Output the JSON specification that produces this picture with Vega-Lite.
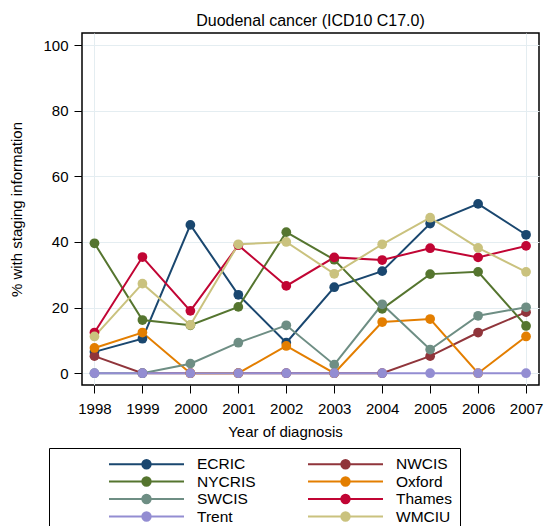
{
  "$schema": "https://vega.github.io/schema/vega-lite/v6.json",
  "width": 457,
  "height": 352,
  "autosize": {"type": "none"},
  "padding": {"left": 82, "top": 33, "right": 5, "bottom": 141},
  "background": "white",
  "config": {
    "font": "Liberation Sans",
    "view": {"stroke": "black", "strokeWidth": 1.5},
    "axis": {"labelColor": "black", "titleColor": "black", "tickColor": "black", "domain": false, "labelFontSize": 15, "titleFontSize": 15, "titleFontWeight": "normal"}
  },
  "title": {"text": "Duodenal cancer (ICD10 C17.0)", "fontSize": 16, "fontWeight": "normal", "color": "black", "offset": 4},
  "data": {
    "values": [
      {"registry": "ECRIC", "year": 1998, "pct": 6.5},
      {"registry": "ECRIC", "year": 1999, "pct": 10.5},
      {"registry": "ECRIC", "year": 2000, "pct": 45.2},
      {"registry": "ECRIC", "year": 2001, "pct": 23.9},
      {"registry": "ECRIC", "year": 2002, "pct": 9.3},
      {"registry": "ECRIC", "year": 2003, "pct": 26.2},
      {"registry": "ECRIC", "year": 2004, "pct": 31.1},
      {"registry": "ECRIC", "year": 2005, "pct": 45.6},
      {"registry": "ECRIC", "year": 2006, "pct": 51.6},
      {"registry": "ECRIC", "year": 2007, "pct": 42.2},
      {"registry": "NWCIS", "year": 1998, "pct": 5.2},
      {"registry": "NWCIS", "year": 1999, "pct": 0},
      {"registry": "NWCIS", "year": 2000, "pct": 0},
      {"registry": "NWCIS", "year": 2001, "pct": 0},
      {"registry": "NWCIS", "year": 2002, "pct": 0},
      {"registry": "NWCIS", "year": 2003, "pct": 0},
      {"registry": "NWCIS", "year": 2004, "pct": 0},
      {"registry": "NWCIS", "year": 2005, "pct": 5.2},
      {"registry": "NWCIS", "year": 2006, "pct": 12.4},
      {"registry": "NWCIS", "year": 2007, "pct": 18.6},
      {"registry": "NYCRIS", "year": 1998, "pct": 39.6},
      {"registry": "NYCRIS", "year": 1999, "pct": 16.2},
      {"registry": "NYCRIS", "year": 2000, "pct": 14.6},
      {"registry": "NYCRIS", "year": 2001, "pct": 20.2},
      {"registry": "NYCRIS", "year": 2002, "pct": 43.0},
      {"registry": "NYCRIS", "year": 2003, "pct": 34.6},
      {"registry": "NYCRIS", "year": 2004, "pct": 19.6},
      {"registry": "NYCRIS", "year": 2005, "pct": 30.2},
      {"registry": "NYCRIS", "year": 2006, "pct": 30.9},
      {"registry": "NYCRIS", "year": 2007, "pct": 14.4},
      {"registry": "Oxford", "year": 1998, "pct": 7.7},
      {"registry": "Oxford", "year": 1999, "pct": 12.4},
      {"registry": "Oxford", "year": 2000, "pct": 0},
      {"registry": "Oxford", "year": 2001, "pct": 0},
      {"registry": "Oxford", "year": 2002, "pct": 8.3},
      {"registry": "Oxford", "year": 2003, "pct": 0},
      {"registry": "Oxford", "year": 2004, "pct": 15.6},
      {"registry": "Oxford", "year": 2005, "pct": 16.5},
      {"registry": "Oxford", "year": 2006, "pct": 0},
      {"registry": "Oxford", "year": 2007, "pct": 11.2},
      {"registry": "SWCIS", "year": 1998, "pct": 0},
      {"registry": "SWCIS", "year": 1999, "pct": 0},
      {"registry": "SWCIS", "year": 2000, "pct": 2.9},
      {"registry": "SWCIS", "year": 2001, "pct": 9.3},
      {"registry": "SWCIS", "year": 2002, "pct": 14.6},
      {"registry": "SWCIS", "year": 2003, "pct": 2.6},
      {"registry": "SWCIS", "year": 2004, "pct": 21.0},
      {"registry": "SWCIS", "year": 2005, "pct": 7.2},
      {"registry": "SWCIS", "year": 2006, "pct": 17.5},
      {"registry": "SWCIS", "year": 2007, "pct": 20.1},
      {"registry": "Thames", "year": 1998, "pct": 12.4},
      {"registry": "Thames", "year": 1999, "pct": 35.4},
      {"registry": "Thames", "year": 2000, "pct": 19.0},
      {"registry": "Thames", "year": 2001, "pct": 39.0},
      {"registry": "Thames", "year": 2002, "pct": 26.6},
      {"registry": "Thames", "year": 2003, "pct": 35.3},
      {"registry": "Thames", "year": 2004, "pct": 34.5},
      {"registry": "Thames", "year": 2005, "pct": 38.1},
      {"registry": "Thames", "year": 2006, "pct": 35.3},
      {"registry": "Thames", "year": 2007, "pct": 38.8},
      {"registry": "Trent", "year": 1998, "pct": 0},
      {"registry": "Trent", "year": 1999, "pct": 0},
      {"registry": "Trent", "year": 2000, "pct": 0},
      {"registry": "Trent", "year": 2001, "pct": 0},
      {"registry": "Trent", "year": 2002, "pct": 0},
      {"registry": "Trent", "year": 2003, "pct": 0},
      {"registry": "Trent", "year": 2004, "pct": 0},
      {"registry": "Trent", "year": 2005, "pct": 0},
      {"registry": "Trent", "year": 2006, "pct": 0},
      {"registry": "Trent", "year": 2007, "pct": 0},
      {"registry": "WMCIU", "year": 1998, "pct": 11.2},
      {"registry": "WMCIU", "year": 1999, "pct": 27.3},
      {"registry": "WMCIU", "year": 2000, "pct": 14.7},
      {"registry": "WMCIU", "year": 2001, "pct": 39.3},
      {"registry": "WMCIU", "year": 2002, "pct": 40.0},
      {"registry": "WMCIU", "year": 2003, "pct": 30.3},
      {"registry": "WMCIU", "year": 2004, "pct": 39.3},
      {"registry": "WMCIU", "year": 2005, "pct": 47.4},
      {"registry": "WMCIU", "year": 2006, "pct": 38.2},
      {"registry": "WMCIU", "year": 2007, "pct": 30.9}
    ]
  },
  "encoding": {
    "x": {
      "field": "year",
      "type": "quantitative",
      "scale": {"domain": [1997.74, 2007.27], "nice": false, "zero": false},
      "axis": {
        "title": "Year of diagnosis",
        "values": [1998, 1999, 2000, 2001, 2002, 2003, 2004, 2005, 2006, 2007],
        "format": "d",
        "tickSize": 8,
        "labelPadding": 8,
        "titlePadding": 8,
        "titleX": 203,
        "labelFlush": false,
        "labelOverlap": false,
        "grid": true,
        "gridColor": {"condition": {"test": "datum.value == 1998 || datum.value == 2007", "value": "#e4edf1"}, "value": "transparent"}
      }
    },
    "y": {
      "field": "pct",
      "type": "quantitative",
      "scale": {"domain": [-3.6, 103.7], "nice": false, "zero": false},
      "axis": {
        "title": "% with staging information",
        "values": [0, 20, 40, 60, 80, 100],
        "tickSize": 8,
        "labelPadding": 6,
        "titlePadding": 18,
        "grid": true,
        "gridColor": "#e4edf1"
      }
    },
    "color": {
      "field": "registry",
      "type": "nominal",
      "scale": {
        "domain": ["ECRIC", "NYCRIS", "SWCIS", "Trent", "NWCIS", "Oxford", "Thames", "WMCIU"],
        "range": ["#1a476f", "#55752f", "#6e8e84", "#938dd2", "#90353b", "#e37e00", "#c10534", "#cac27e"]
      },
      "legend": {
        "title": null,
        "orient": "none",
        "legendX": -33,
        "legendY": 415,
        "columns": 2,
        "columnPadding": -145,
        "rowPadding": 0.5,
        "padding": 8,
        "strokeColor": "black",
        "fillColor": "white",
        "clipHeight": 16,
        "symbolType": "M-2.36,0M4.26,0M-1,0H1M0.112,0A0.112,0.112,0,1,1,-0.112,0A0.112,0.112,0,1,1,0.112,0Z",
        "symbolSize": 5625,
        "symbolOffset": 51,
        "symbolStrokeWidth": 2,
        "labelFontSize": 15.5,
        "labelColor": "black",
        "labelOffset": 12,
        "encode": {
          "symbols": {
            "update": {
              "fill": {"scale": "color", "field": "value"},
              "stroke": {"scale": "color", "field": "value"},
              "strokeWidth": {"value": 2},
              "opacity": {"value": 1}
            }
          }
        }
      }
    }
  },
  "layer": [
    {"mark": {"type": "line", "strokeWidth": 2}},
    {"mark": {"type": "point", "filled": true, "size": 95, "opacity": 1}}
  ]
}
